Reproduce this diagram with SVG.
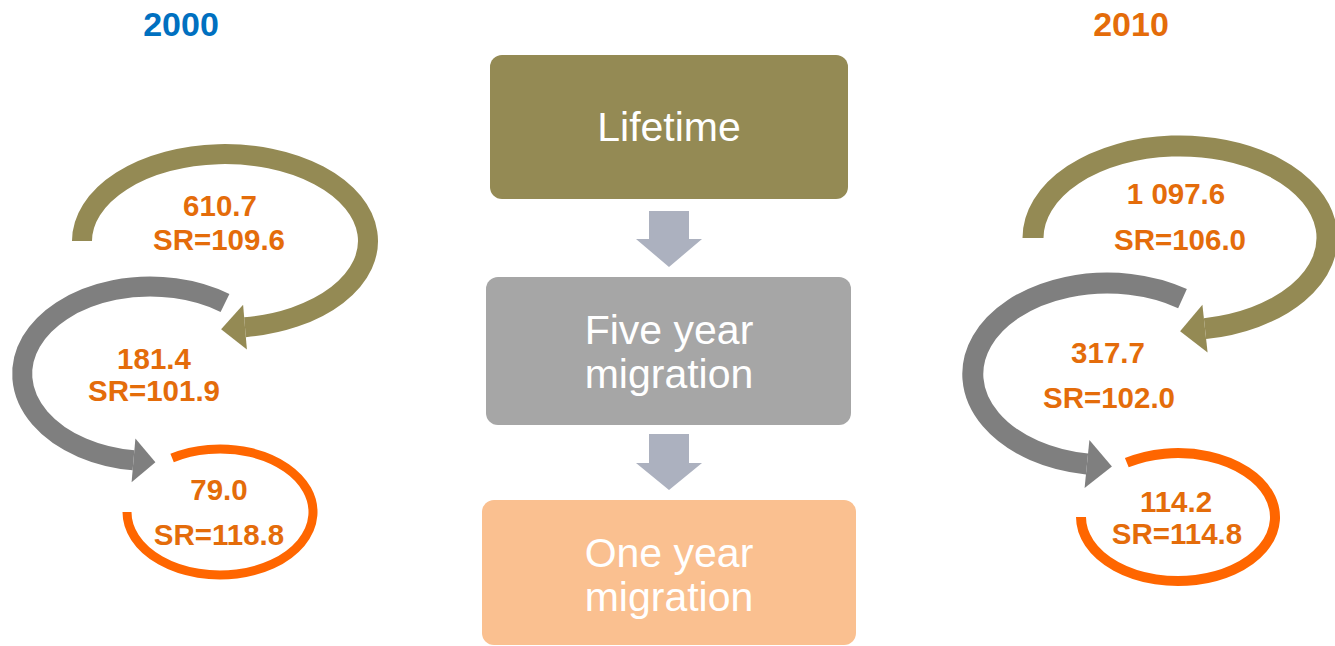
<svg xmlns="http://www.w3.org/2000/svg" width="1335" height="646" viewBox="0 0 1335 646">
  <style>
    .year { font-family: "Liberation Sans", Arial, sans-serif; font-weight: bold; font-size: 34px; text-anchor: middle; }
    .val { font-family: "Liberation Sans", Arial, sans-serif; font-weight: bold; font-size: 29.5px; fill: #E46C0A; text-anchor: middle; }
    .stage { font-family: "Liberation Sans", Arial, sans-serif; font-size: 41px; fill: #FFFFFF; text-anchor: middle; }
    .olive { fill: none; stroke: #948A54; stroke-width: 20; }
    .grey { fill: none; stroke: #7F7F7F; stroke-width: 20; }
    .ring { fill: none; stroke: #FF6600; stroke-width: 9; }
    .down { fill: #ACB1BF; }
  </style>

  <!-- year headings -->
  <text class="year" x="181" y="36" fill="#0070C0">2000</text>
  <text class="year" x="1131" y="36" fill="#E46C0A">2010</text>

  <!-- stage boxes -->
  <g id="node-lifetime">
    <rect x="490" y="55" width="358" height="144" rx="12" fill="#948A54"/>
    <text class="stage" x="669" y="141">Lifetime</text>
  </g>
  <g id="node-five-year">
    <rect x="486" y="277" width="365" height="148" rx="12" fill="#A6A6A6"/>
    <text class="stage" x="669" y="344">Five year</text>
    <text class="stage" x="669" y="388">migration</text>
  </g>
  <g id="node-one-year">
    <rect x="482" y="500" width="374" height="145" rx="12" fill="#FAC090"/>
    <text class="stage" x="669" y="567">One year</text>
    <text class="stage" x="669" y="611">migration</text>
  </g>

  <!-- connectors: block arrows between stages and curved arrows per census -->
  <g id="connectors">
    <polygon class="down" points="649,211 689,211 689,239 702,239 669,267 636,239 649,239"/>
    <polygon class="down" points="649,434 689,434 689,463 702,463 669,490 636,463 649,463"/>

    <!-- 2000 -->
    <path class="olive" d="M 82 241 A 143 87 0 1 1 245 327.2"/>
    <polygon fill="#948A54" points="246.9,349.6 243.1,304.8 221.1,329.2"/>
    <path class="grey" d="M 225 303 A 128 87.25 0 1 0 133.5 460.3"/>
    <polygon fill="#7F7F7F" points="135.4,438.4 131.6,482.2 155.4,462.2"/>
    <path class="ring" d="M 172.1 458 A 93 63 0 1 1 127 512"/>

    <!-- 2010 -->
    <path class="olive" style="stroke-width:21" d="M 1033 238 A 147 92 0 1 1 1205 328.6"/>
    <polygon fill="#948A54" points="1207.6,352.5 1202.4,304.7 1180.1,331.3"/>
    <path class="grey" style="stroke-width:21" d="M 1182.5 298.6 A 134.5 91 0 1 0 1087 464"/>
    <polygon fill="#7F7F7F" points="1089.4,440.1 1084.6,487.9 1111.9,466.5"/>
    <path class="ring" style="stroke-width:10" d="M 1126.8 462.7 A 97 64 0 1 1 1081 517"/>
  </g>

  <!-- figures for 2000 -->
  <g id="node-2000-lifetime">
    <text class="val" x="220" y="216">610.7</text>
    <text class="val" x="219" y="250">SR=109.6</text>
  </g>
  <g id="node-2000-five-year">
    <text class="val" x="154" y="369">181.4</text>
    <text class="val" x="154" y="401">SR=101.9</text>
  </g>
  <g id="node-2000-one-year">
    <text class="val" x="219" y="500">79.0</text>
    <text class="val" x="219" y="545">SR=118.8</text>
  </g>

  <!-- figures for 2010 -->
  <g id="node-2010-lifetime">
    <text class="val" x="1176" y="204">1 097.6</text>
    <text class="val" x="1180" y="250">SR=106.0</text>
  </g>
  <g id="node-2010-five-year">
    <text class="val" x="1108" y="363">317.7</text>
    <text class="val" x="1109" y="408">SR=102.0</text>
  </g>
  <g id="node-2010-one-year">
    <text class="val" x="1176" y="512">114.2</text>
    <text class="val" x="1177" y="544">SR=114.8</text>
  </g>
</svg>
